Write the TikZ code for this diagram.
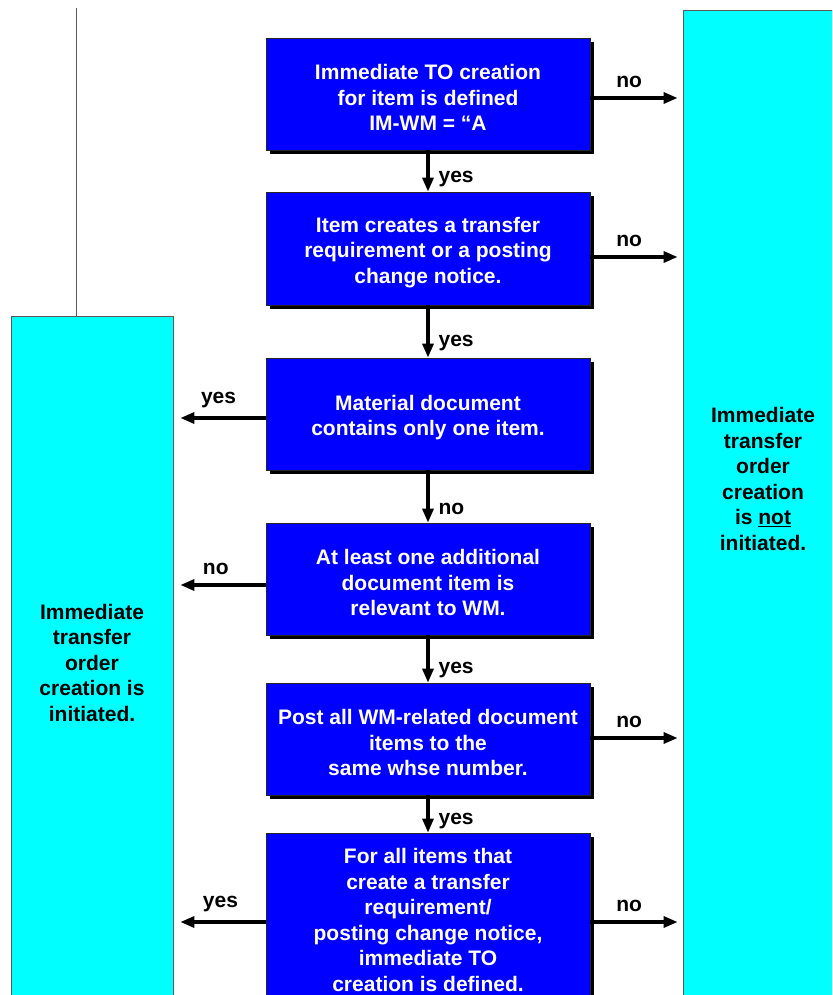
\documentclass[tikz,border=0pt]{standalone}
\usepackage{fontspec}
\setmainfont{Liberation Sans}
\usetikzlibrary{arrows.meta,shadows}

\definecolor{stepblue}{RGB}{0,0,255}
\definecolor{resultcyan}{RGB}{0,255,255}
\definecolor{framegray}{RGB}{90,90,90}

% extra room above the first line, so the text sits a little low in each box
\newcommand{\firstline}{\rule{0pt}{22.5pt}}

\tikzset{
  txt/.style={font=\fontsize{21}{25.5}\selectfont\bfseries, align=center},
  stepbox/.style={txt, draw=black!85, line width=0.8pt, fill=stepblue, text=white,
    minimum width=324pt, inner sep=0pt,
    drop shadow={shadow xshift=4pt, shadow yshift=-4pt, fill=black, opacity=1}},
  resultbox/.style={draw=framegray, line width=0.8pt, fill=resultcyan,
    minimum width=162pt, inner sep=0pt},
  arr/.style={line width=3.2pt, -{Triangle[length=14pt,width=11pt]}},
  lbl/.style={font=\fontsize{21}{25}\selectfont\bfseries, inner sep=0pt},
  vlbl/.style={lbl, anchor=base west, xshift=9pt},
  hlbl/.style={lbl, above=9pt},
}

\begin{document}
\begin{tikzpicture}[x=1pt,y=-1pt]
\path[use as bounding box] (0,0) rectangle (832,995);
\clip (0,0) rectangle (832,995);
\fill[white] (0,0) rectangle (832,995);

% outcome columns
\node[resultbox, minimum height=1000pt] (R) at (764,510) {};
\node[txt, text=black] (Rtext) at (763,479)
  {Immediate\\transfer\\order\\creation\\is \underline{not}\\initiated.};
\node[resultbox, minimum height=693pt, txt, text=black] (L) at (92,662.5)
  {Immediate\\transfer\\order\\creation is\\initiated.};

% thin rule above the left column
\coordinate (rule) at (76,8);
\draw[framegray, line width=0.8pt] (rule) -- (rule |- L.north);

% decision steps
\node[stepbox, minimum height=112pt] (b1) at (428,94)
  {\firstline Immediate TO creation\\for item is defined\\IM-WM = “A};
\node[stepbox, minimum height=113pt] (b2) at (428,248.5)
  {\firstline Item creates a transfer\\requirement or a posting\\change notice.};
\node[stepbox, minimum height=112pt] (b3) at (428,414)
  {\firstline Material document\\contains only one item.};
\node[stepbox, minimum height=112pt] (b4) at (428,579)
  {\firstline At least one additional\\document item is\\relevant to WM.};
\node[stepbox, minimum height=112pt] (b5) at (428,739)
  {\firstline Post all WM-related document\\items to the\\same whse number.};
\node[stepbox, minimum height=174pt] (b6) at (428,920)
  {For all items that\\create a transfer\\requirement/\\posting change notice,\\immediate TO\\creation is defined.};

% main flow
\draw[arr] (b1.south) -- node[vlbl, pos=0.71, yshift=-3pt] {yes} (b2.north);
\draw[arr] (b2.south) -- node[vlbl, pos=0.74, yshift=-2pt] {yes} (b3.north);
\draw[arr] (b3.south) -- node[vlbl, pos=0.85] {no} (b4.north);
\draw[arr] (b4.south) -- node[vlbl, pos=0.75, yshift=-3pt] {yes} (b5.north);
\draw[arr] (b5.south) -- node[vlbl, pos=0.68, yshift=-4pt] {yes} (b6.north);

% exit points on the box sides
\coordinate (o1) at ([yshift=-4pt]b1.east);
\coordinate (o2) at ([yshift=-8.5pt]b2.east);
\coordinate (o5) at ([yshift=1pt]b5.east);
\coordinate (o6) at ([yshift=-2pt]b6.east);
\coordinate (i3) at ([yshift=-4pt]b3.west);
\coordinate (i4) at ([yshift=-6pt]b4.west);
\coordinate (i6) at ([yshift=-2pt]b6.west);

% exits to the right column
\draw[arr, shorten >=5pt] (o1) -- node[hlbl, pos=0.42] {no} (o1 -| R.west);
\draw[arr, shorten >=5pt] (o2) -- node[hlbl, pos=0.42] {no} (o2 -| R.west);
\draw[arr, shorten >=5pt] (o5) -- node[hlbl, pos=0.42] {no} (o5 -| R.west);
\draw[arr, shorten >=5pt] (o6) -- node[hlbl, pos=0.42] {no} (o6 -| R.west);

% exits to the left column
\draw[arr, shorten >=7pt] (i3) -- node[hlbl, pos=0.51] {yes} (i3 -| L.east);
\draw[arr, shorten >=7pt] (i4) -- node[hlbl, pos=0.54] {no} (i4 -| L.east);
\draw[arr, shorten >=7pt] (i6) -- node[hlbl, pos=0.49] {yes} (i6 -| L.east);
\end{tikzpicture}
\end{document}
